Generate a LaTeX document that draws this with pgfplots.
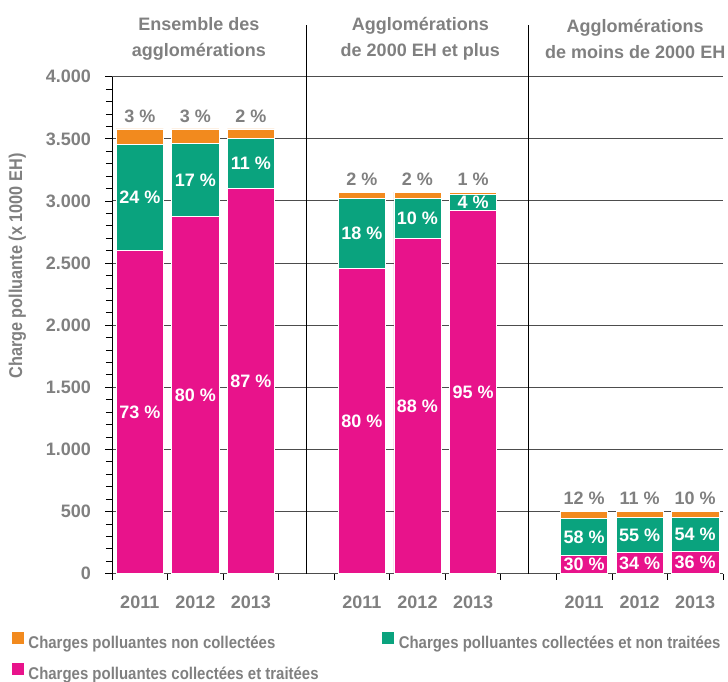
\documentclass[border=0pt]{standalone}
\usepackage{pgfplots}
\pgfplotsset{compat=1.18}
\usepackage{fontspec}
\setmainfont{Liberation Sans Bold}
\newfontfamily\condfont{Liberation Sans Bold}[FakeStretch=0.88]
\definecolor{corange}{HTML}{F28A1E}
\definecolor{cgreen}{HTML}{0AA37E}
\definecolor{cpink}{HTML}{E8138B}
\definecolor{tgray}{HTML}{808080}
\definecolor{ggray}{HTML}{4D4D4D}
\pgfplotsset{
  sqlegend/.style={legend image code/.code={\fill[##1,draw=none] (0pt,0pt) rectangle (11.5pt,12pt); \path (16pt,0pt);}},
  centerlabel/.style={nodes near coords, point meta=explicit symbolic,
    every node near coord/.style={font=\fontsize{18}{20}\selectfont, text=white, anchor=center}},
}
\begin{document}
\begin{tikzpicture}
\begin{axis}[
  at={(0pt,0pt)}, anchor=south west,
  scale only axis, width=611pt, height=497pt,
  xmin=0, xmax=11, ymin=0, ymax=4000,
  ybar stacked, bar width=0.85,
  clip=false,
  axis x line*=bottom, axis y line*=left,
  x axis line style={ggray, line width=1.2pt},
  y axis line style={black, line width=0.8pt},
  tick align=outside,
  major tick length=6.5pt, minor tick length=6pt,
  tick style={black, line width=0.8pt},
  xtick={0.5,1.5,2.5,4.5,5.5,6.5,8.5,9.5,10.5},
  xticklabels={2011,2012,2013,2011,2012,2013,2011,2012,2013},
  major x tick style={draw=none},
  minor xtick={0,1,...,11},
  xticklabel style={yshift=-12pt},
  yticklabel style={xshift=-11pt},
  ytick={0,500,...,4000}, minor y tick num=4,
  ymajorgrids, grid style={ggray, line width=1pt},
  /pgf/number format/assume math mode=true,
  /pgf/number format/1000 sep={.},
  tick label style={font=\fontsize{18}{20}\selectfont, text=tgray},
  ylabel={Charge polluante (x 1000 EH)},
  every axis y label/.style={at={(axis description cs:-0.1547,0.619)}, rotate=90, anchor=center, font=\condfont\fontsize{18.5}{20}\selectfont, text=tgray},
  legend columns=2, reverse legend, legend cell align=left,
  legend style={at={(-0.1637,-0.1687)}, anchor=west, draw=none, fill=none, inner sep=0pt,
    font=\condfont\fontsize{17}{20}\selectfont, text=tgray,
    nodes={inner sep=0pt, text height=13pt, text depth=4pt},
    column sep=0pt, row sep=11pt},
]
\addplot[fill=cpink, draw=white, line width=0.6pt, sqlegend, centerlabel] coordinates {
 (0.5,2600)[73 \%] (1.5,2873)[80 \%] (2.5,3103)[87 \%]
 (4.5,2456)[80 \%] (5.5,2698)[88 \%] (6.5,2921)[95 \%]
 (8.5,148)[30 \%] (9.5,169)[34 \%] (10.5,181)[36 \%]};
\addlegendentry{Charges polluantes collectées et traitées}
\addplot[fill=cgreen, draw=white, line width=0.6pt, sqlegend, centerlabel] coordinates {
 (0.5,855)[24 \%] (1.5,593)[17 \%] (2.5,398)[11 \%]
 (4.5,562)[18 \%] (5.5,320)[10 \%] (6.5,129)[4 \%]
 (8.5,295)[58 \%] (9.5,282)[55 \%] (10.5,270)[54 \%]};
\addlegendentry{Charges polluantes collectées et non traitées}
\addplot[fill=corange, draw=white, line width=0.6pt, sqlegend, nodes near coords, point meta=explicit symbolic,
  visualization depends on=rawy \as \rawy,
  every node near coord/.style={font=\fontsize{18}{20}\selectfont, text=tgray, anchor=center, shift={(axis direction cs:0,\rawy/2)}, yshift=13pt}] coordinates {
 (0.5,125)[3 \%] (1.5,114)[3 \%] (2.5,79)[2 \%]
 (4.5,53)[2 \%] (5.5,53)[2 \%] (6.5,21)[1 \%]
 (8.5,60)[12 \%] (9.5,52)[11 \%] (10.5,52)[10 \%]};
\addlegendentry{\makebox[354pt][l]{Charges polluantes non collectées}}
\draw[black, line width=1.2pt] (axis cs:3.5,0) -- (axis cs:3.5,4415);
\draw[black, line width=1.2pt] (axis cs:7.5,0) -- (axis cs:7.5,4415);
\node[align=center, font=\fontsize{18}{26}\selectfont, text=tgray] at (axis cs:1.566,4303) {Ensemble des\\agglomérations};
\node[align=center, font=\fontsize{18}{26}\selectfont, text=tgray] at (axis cs:5.55,4303) {Agglomérations\\de 2000 EH et plus};
\node[align=center, font=\fontsize{18}{26}\selectfont, text=tgray] at (axis cs:9.42,4303) {Agglomérations\\de moins de 2000 EH};
\end{axis}
\pgfresetboundingbox
\useasboundingbox (-112pt,-108.3pt) rectangle (616pt,573.7pt);
\end{tikzpicture}
\end{document}
